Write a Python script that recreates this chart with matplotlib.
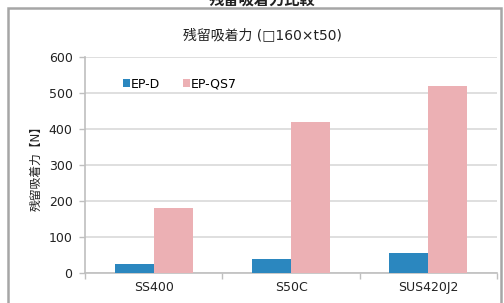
import matplotlib
matplotlib.use("Agg")
import matplotlib.pyplot as plt
from matplotlib.patches import Rectangle
import numpy as np

plt.rcParams['font.family'] = ['DejaVu Sans', 'Noto Sans CJK JP']

# data
materials = ['SS400', 'S50C', 'SUS420J2']
ep_d = [25, 40, 55]
ep_qs7 = [180, 420, 520]
series_names = ['EP-D', 'EP-QS7']
yticks = [0, 100, 200, 300, 400, 500, 600]

blue = '#2b87bf'
pink = '#ecb0b4'
grid_col = '#d9d9d9'
axis_col = '#bfbfbf'
txt = '#222222'

fig = plt.figure(figsize=(5.04, 3.03), dpi=100)

# outer frame around the chart
fig.patches.append(Rectangle((8 / 504, -0.05), 493 / 504, 1 - 8 / 303 + 0.05,
                             transform=fig.transFigure, fill=False,
                             edgecolor='#a6a6a6', linewidth=1.8))

# big title, clipped at the top like in the source image
fig.text(0.52, 1.0, '残留吸着力比較', ha='center', va='center',
         fontsize=11, fontweight='bold', color=txt)

ax = fig.add_axes([85 / 504, 1 - 273 / 303, 412 / 504, 216 / 303])

x = np.arange(len(materials))
w = 0.285
ax.bar(x - w / 2, ep_d, w, color=blue, label=series_names[0], zorder=3)
ax.bar(x + w / 2, ep_qs7, w, color=pink, label=series_names[1], zorder=3)

ax.set_xlim(-0.5, len(materials) - 0.5)
ax.set_ylim(0, 600)
ax.set_yticks(yticks)
ax.yaxis.grid(True, color=grid_col, linewidth=1.2, zorder=0)
ax.set_axisbelow(True)

ax.set_xticks(x)
ax.set_xticklabels(materials, fontsize=9, color=txt)
ax.tick_params(axis='x', which='major', length=0, pad=6)
ax.set_xticks(np.arange(len(materials) + 1) - 0.5, minor=True)
ax.tick_params(axis='x', which='minor', length=4, color=axis_col, width=1)
ax.tick_params(axis='y', length=4, color=axis_col, width=1, labelsize=9,
               labelcolor=txt, pad=5)

for s in ['top', 'right']:
    ax.spines[s].set_visible(False)
for s in ['left', 'bottom']:
    ax.spines[s].set_color(axis_col)
    ax.spines[s].set_linewidth(1.2)

ax.set_ylabel('残留吸着力【N】', fontsize=8.5, color=txt, labelpad=4)

fig.text(262 / 504, 1 - 35 / 303, '残留吸着力 (□160×t50)', ha='center',
         va='center', fontsize=10, color=txt)

ax.legend(loc='center left', bbox_to_anchor=(0.08, 0.875), ncol=2, frameon=False,
          fontsize=9, handlelength=0.55, handleheight=0.55, handletextpad=0.1,
          columnspacing=1.8, borderaxespad=0)

fig.savefig('out.png', dpi=100)
